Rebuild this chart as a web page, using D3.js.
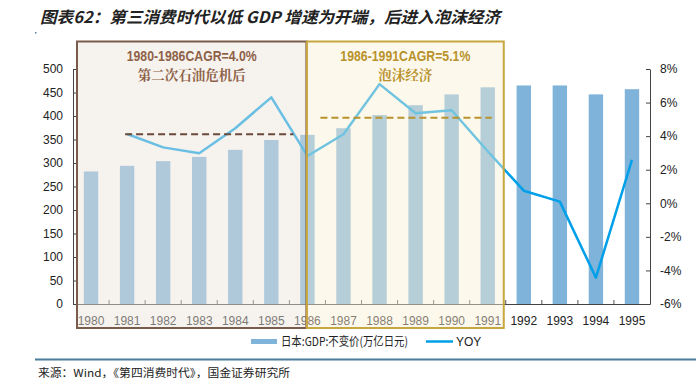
<!DOCTYPE html>
<html><head><meta charset="utf-8">
<script src="https://cdn.jsdelivr.net/npm/d3@7/dist/d3.min.js"></script>
<style>body{margin:0;background:#fff}svg{display:block}</style>
</head><body><svg id="c" width="699" height="382"></svg>
<script>
const years = ["1980","1981","1982","1983","1984","1985","1986","1987","1988","1989","1990","1991","1992","1993","1994","1995"];
const gdp = [282,294,304,313,328,349,360,374,402,423,446,461,465,465,446,457];
const yoyYears = ["1981","1982","1983","1984","1985","1986","1987","1988","1989","1990","1991","1992","1993","1994","1995"];
const yoy = [4.13,3.33,2.98,4.47,6.31,2.82,4.11,7.1,5.36,5.54,3.1,0.75,0.1,-4.43,2.58];
const leftTicks = [0,50,100,150,200,250,300,350,400,450,500];
const rightTicks = [-6,-4,-2,0,2,4,6,8];
const periods = [
  {from:"1980", to:"1986", cagr:4.0, label1:"1980-1986CAGR=4.0%", label2:"第二次石油危机后"},
  {from:"1986", to:"1991", cagr:5.1, label1:"1986-1991CAGR=5.1%", label2:"泡沫经济"}
];
const legendLabels = ["日本:GDP:不变价(万亿日元)","YOY"];
const title = "图表62：第三消费时代以低 GDP 增速为开端，后进入泡沫经济";
const source = "来源：Wind，《第四消费时代》，国金证券研究所";

const svg = d3.select("#c");
const L=73, R=650, T=69, B=304;
const xb = d3.scaleBand().domain(years).range([L,R]);
const yL = d3.scaleLinear().domain([0,500]).range([B,T]);
const yR = d3.scaleLinear().domain([-6,8]).range([B,T]);
const cx = y => xb(y)+xb.bandwidth()/2;

// title
svg.append("text").attr("x",40).attr("y",23).attr("font-family","Noto Sans CJK SC").attr("font-size",16)
  .attr("font-style","italic").attr("font-weight","bold").attr("fill","#222")
  .attr("textLength",460).attr("lengthAdjust","spacingAndGlyphs").text(title);
svg.append("rect").attr("x",35).attr("y",32).attr("width",1.5).attr("height",1.5).attr("fill","#5a7fa0");

// bars
svg.append("g").selectAll("rect").data(years).join("rect")
  .attr("x",d=>cx(d)-7.2).attr("width",14.4)
  .attr("y",(d,i)=>yL(gdp[i])).attr("height",(d,i)=>B-yL(gdp[i]))
  .attr("fill","#7FB3DA");

// line
const line = d3.line().x(d=>cx(d[0])).y(d=>yR(d[1]));
svg.append("path").datum(yoyYears.map((y,i)=>[y,yoy[i]])).attr("d",line)
  .attr("fill","none").attr("stroke","#00A0E9").attr("stroke-width",2.5).attr("stroke-linejoin","round");

// axes
const axL = svg.append("g").attr("transform",`translate(${L},0)`)
  .call(d3.axisLeft(yL).tickValues(leftTicks).tickSizeInner(-4).tickSizeOuter(0).tickPadding(10));
const axR = svg.append("g").attr("transform",`translate(${R},0)`)
  .call(d3.axisRight(yR).tickValues(rightTicks).tickFormat(d=>d+"%").tickSizeInner(-4).tickSizeOuter(0).tickPadding(10));
const axB = svg.append("g").attr("transform",`translate(0,${B})`)
  .call(d3.axisBottom(xb).tickSize(0).tickPadding(12));
svg.append("g").selectAll("line").data(years.slice(1)).join("line")
  .attr("x1",d=>xb(d)).attr("x2",d=>xb(d)).attr("y1",B).attr("y2",B-4).attr("stroke","#555");
[axL,axR,axB].forEach(a=>{
  a.selectAll("text").attr("font-family","Liberation Sans, Arial").attr("font-size",12).attr("fill","#222");
  a.selectAll("path,line").attr("stroke","#444");
});

// period boxes
const fills = ["rgba(235,228,220,0.45)","rgba(251,240,212,0.45)"];
const strokes = ["#7A5C4C","#C8A73E"];
const textCols = ["#8E6147","#B8922A"];
const boxX = [[xb("1980")+4, cx("1986")-1],[cx("1986")-0.5, xb("1991")+xb.bandwidth()-2]];
periods.forEach((p,i)=>{
  const [x0,x1] = boxX[i];
  svg.append("rect").attr("x",x0).attr("y",41.5).attr("width",x1-x0).attr("height",328-41.5)
    .attr("fill",fills[i]).attr("stroke",strokes[i]).attr("stroke-width",2);
  const mx=(x0+x1)/2;
  svg.append("text").attr("x",mx).attr("y",61).attr("text-anchor","middle").attr("font-family","Liberation Sans Narrow, Liberation Sans").attr("font-size",14).attr("font-weight","bold").attr("fill",textCols[i])
    .attr("textLength",130).attr("lengthAdjust","spacingAndGlyphs").text(p.label1);
  svg.append("text").attr("x",mx).attr("y",80).attr("text-anchor","middle").attr("font-family","Noto Serif CJK SC, Noto Sans CJK SC").attr("font-size",13.5).attr("font-weight","bold").attr("fill",textCols[i]).text(p.label2);
});
// CAGR dashed lines (right axis)
svg.append("line").attr("x1",cx("1981")-2).attr("x2",cx("1986")-14).attr("y1",yR(periods[0].cagr)-2).attr("y2",yR(periods[0].cagr)-2)
  .attr("stroke","#6B4A3A").attr("stroke-width",2).attr("stroke-dasharray","7,4");
svg.append("line").attr("x1",cx("1986")+13).attr("x2",cx("1991")+4).attr("y1",yR(periods[1].cagr)).attr("y2",yR(periods[1].cagr))
  .attr("stroke","#B8922A").attr("stroke-width",2).attr("stroke-dasharray","7,4");

// legend
const lg = svg.append("g");
lg.append("rect").attr("x",251).attr("y",339).attr("width",26).attr("height",5).attr("fill","#7FB3DA");
lg.append("text").attr("x",281).attr("y",346).attr("font-family","Noto Sans CJK SC").attr("font-size",12).attr("fill","#222")
  .attr("textLength",127).attr("lengthAdjust","spacingAndGlyphs").text(legendLabels[0]);
lg.append("line").attr("x1",426).attr("x2",453).attr("y1",341.5).attr("y2",341.5).attr("stroke","#00A0E9").attr("stroke-width",2.5);
lg.append("text").attr("x",456).attr("y",346).attr("font-family","Liberation Sans, Arial").attr("font-size",12).attr("fill","#222").text(legendLabels[1]);

// footer
svg.append("line").attr("x1",35).attr("x2",696).attr("y1",359.5).attr("y2",359.5).attr("stroke","#4A7C9E").attr("stroke-width",2);
svg.append("text").attr("x",38).attr("y",377).attr("font-family","Noto Sans CJK SC").attr("font-size",11).attr("fill","#222")
  .attr("textLength",252).attr("lengthAdjust","spacingAndGlyphs").text(source);
</script></body></html>
